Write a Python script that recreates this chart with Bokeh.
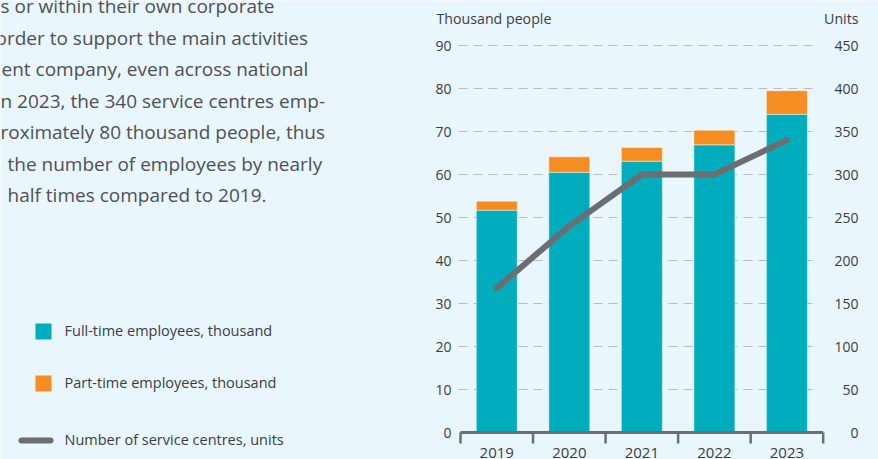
from bokeh.plotting import figure
from bokeh.models import Range1d, ColumnDataSource
from bokeh.embed import file_html
from bokeh.resources import INLINE
from bokeh.core.properties import value

# ---------------- data ----------------
years = ["2019", "2020", "2021", "2022", "2023"]
full_time = [51.7, 60.5, 63.1, 66.9, 74.0]      # thousand people
part_time = [2.1, 3.6, 3.2, 3.4, 5.5]           # thousand people
centres = [168, 240, 300, 300, 340]             # units
left_ticks = [0, 10, 20, 30, 40, 50, 60, 70, 80, 90]
right_ticks = [0, 50, 100, 150, 200, 250, 300, 350, 400, 450]
left_title = "Thousand people"
right_title = "Units"
legend_labels = ["Full-time employees, thousand",
                 "Part-time employees, thousand",
                 "Number of service centres, units"]
paragraph = ["s or within their own corporate",
             "order to support the main activities",
             "ent company, even across national",
             "n 2023, the 340 service centres emp-",
             "roximately 80 thousand people, thus",
             "the number of employees by nearly",
             "half times compared to 2019."]

# ---------------- layout / style ----------------
W, H = 878, 459
AX_L, AX_R = 460.0, 822.7      # page px of category edges -0.5 and 4.5
AX_B, AX_T = 432.0, 45.0       # page px of 0 and 90
PX = (AX_R - AX_L) / len(years)
PY = (AX_B - AX_T) / left_ticks[-1]
RATIO = right_ticks[-1] / left_ticks[-1]

BG = "#e9f6fd"
TEAL = "#00adbd"
ORANGE = "#f68d20"
GREY = "#6d6e71"
GRID = "#b9bdc2"
TXT = "#3c3c3e"
PTXT = "#505052"
FONT = value("Open Sans")

x_range = Range1d(-0.5 - AX_L / PX, len(years) - 0.5 + (W - AX_R) / PX)
y_range = Range1d(-(H - AX_B) / PY, AX_B / PY)


def px_x(px):
    return x_range.start + px / PX


def px_y(py):
    return y_range.end - py / PY


p = figure(width=W, height=H, x_range=x_range, y_range=y_range,
           x_axis_type=None, y_axis_type=None,
           output_backend="svg", toolbar_location=None, min_border=0,
           background_fill_color=BG, border_fill_color=BG,
           outline_line_color=None)
p.extra_y_ranges = {"units": Range1d(y_range.start * RATIO, y_range.end * RATIO)}

xs = list(range(len(years)))

# grid lines
gy = left_ticks[1:]
p.segment(x0=[-0.5 - 2 / PX] * len(gy), x1=[4.5 - 6 / PX] * len(gy), y0=gy, y1=gy,
          line_color=GRID, line_width=1, line_dash="9 6")

# stacked bars
src = ColumnDataSource(dict(x=xs, full=full_time, part=part_time))
p.vbar_stack(["full", "part"], x="x", width=0.565, color=[TEAL, ORANGE],
             line_color="white", line_alpha=0.45, line_width=1, source=src)

# service centres line (right axis)
p.line(xs, centres, y_range_name="units", line_color=GREY, line_width=6,
       line_cap="round", line_join="round")

# x axis line and category boundary ticks
edges = [i - 0.5 for i in range(len(years) + 1)]
p.segment(x0=[-0.5], x1=[len(years) - 0.5], y0=[0], y1=[0], line_color=GREY, line_width=3)
p.segment(x0=edges, x1=edges, y0=[0] * len(edges), y1=[-11 / PY] * len(edges),
          line_color=GREY, line_width=2.5)

# year labels
p.text(x=xs, y=[-20 / PY] * len(xs), text=years, text_align="center",
       text_baseline="middle", text_font=FONT, text_font_size="15px", text_color=TXT)

# left tick labels
p.text(x=[-0.5 - 9 / PX] * len(left_ticks), y=left_ticks, text=[str(t) for t in left_ticks],
       text_align="right", text_baseline="middle", text_font=FONT,
       text_font_size="14px", text_color=TXT)
# right tick labels
RX = len(years) - 0.5 + 35.3 / PX
p.text(x=[RX] * len(right_ticks), y=right_ticks, text=[str(t) for t in right_ticks],
       y_range_name="units", text_align="right", text_baseline="middle", text_font=FONT,
       text_font_size="14px", text_color=TXT)

# axis titles
p.text(x=[px_x(436)], y=[px_y(18)], text=[left_title], text_align="left",
       text_baseline="middle", text_font=FONT, text_font_size="14.2px", text_color=TXT)
p.text(x=[RX], y=[px_y(18)], text=[right_title], text_align="right",
       text_baseline="middle", text_font=FONT, text_font_size="14.2px", text_color=TXT)

# paragraph (cropped text block)
para_x = [0, -5, 1, 0, 0, 7, 7]
para_mid = [5.8 + 31.53 * i for i in range(len(paragraph))]
p.text(x=[px_x(v) for v in para_x], y=[px_y(v) for v in para_mid], text=paragraph,
       text_align="left", text_baseline="middle", text_font=FONT,
       text_font_size="19px", text_color=PTXT)

# legend
p.scatter(x=[px_x(43), px_x(43)], y=[px_y(331), px_y(383)], marker="square", size=16,
          color=[TEAL, ORANGE], line_color=None)
p.line(x=[px_x(21), px_x(50)], y=[px_y(440), px_y(440)], line_color=GREY, line_width=6,
       line_cap="round")
p.text(x=[px_x(64)] * 3, y=[px_y(330), px_y(382.3), px_y(439)], text=legend_labels,
       text_align="left", text_baseline="middle", text_font=FONT,
       text_font_size="14.5px", text_color=TXT)

html = file_html(p, INLINE, title="Service centres")
html = html.replace("<body>", '<body style="margin:0;background:%s;overflow:hidden;">' % BG, 1)
open("out.html", "w").write(html)
